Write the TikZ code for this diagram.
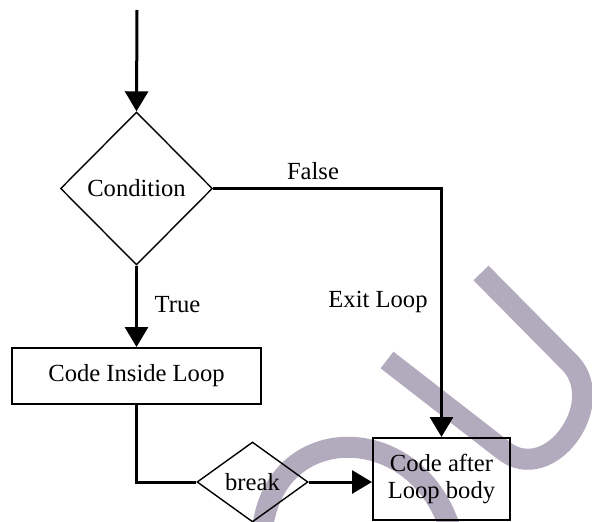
\documentclass[tikz,border=0pt]{standalone}
\usepackage{fontspec}
\setmainfont{Liberation Serif}
\usetikzlibrary{shapes.geometric,arrows.meta}
\definecolor{markgray}{RGB}{178,171,189}
\tikzset{
  lbl/.style={font=\fontsize{24.6}{28}\selectfont, inner sep=0pt},
  decision/.style={diamond, draw, line width=1.4pt, inner sep=0pt, lbl},
  process/.style={rectangle, draw, line width=2pt, inner sep=0pt, lbl, align=center},
  flow/.style={line width=3pt, -{Triangle[width=23pt,length=20pt]}},
  plain/.style={line width=3pt},
  bgstroke/.style={draw=markgray, line width=21pt}
}
\begin{document}
\begin{tikzpicture}[x=1pt,y=-1pt]
\useasboundingbox (0,0) rectangle (592,522);
% background strokes
\draw[bgstroke] (387,360) -- (503,450) .. controls (550,488) and (612,400) .. (567,360) -- (481,273);
\draw[bgstroke] (262,535) .. controls (270,418) and (420,418) .. (452,535);
% shapes
\coordinate (start) at (137,10);
\node[decision, minimum width=152pt, minimum height=153pt] (cond) at (136.5,188.5) {Condition};
\node[process, minimum width=249pt, minimum height=56pt] (inside) at (136.5,376) {Code Inside Loop};
\node[decision, minimum width=111pt, minimum height=80pt] (brk) at (252.5,482) {break};
\node[process, minimum width=137pt, minimum height=82pt] (after) at (441.5,479) {Code after\\[-1pt]Loop body};
% connectors
\draw[flow] (start) -- (cond.north);
\draw[flow] (cond.south) -- (inside.north);
\draw[plain] (inside.south) |- (brk.west);
\draw[flow] (brk.east) -- (brk.east -| after.west);
\draw[flow] (cond.east) -| (after.north);
% labels
\node[lbl, anchor=base] (lfalse) at (313,179) {False};
\node[lbl, anchor=base] (ltrue) at (177.5,312) {True};
\node[lbl, anchor=base] (lexit) at (378,307) {Exit Loop};
\end{tikzpicture}
\end{document}
